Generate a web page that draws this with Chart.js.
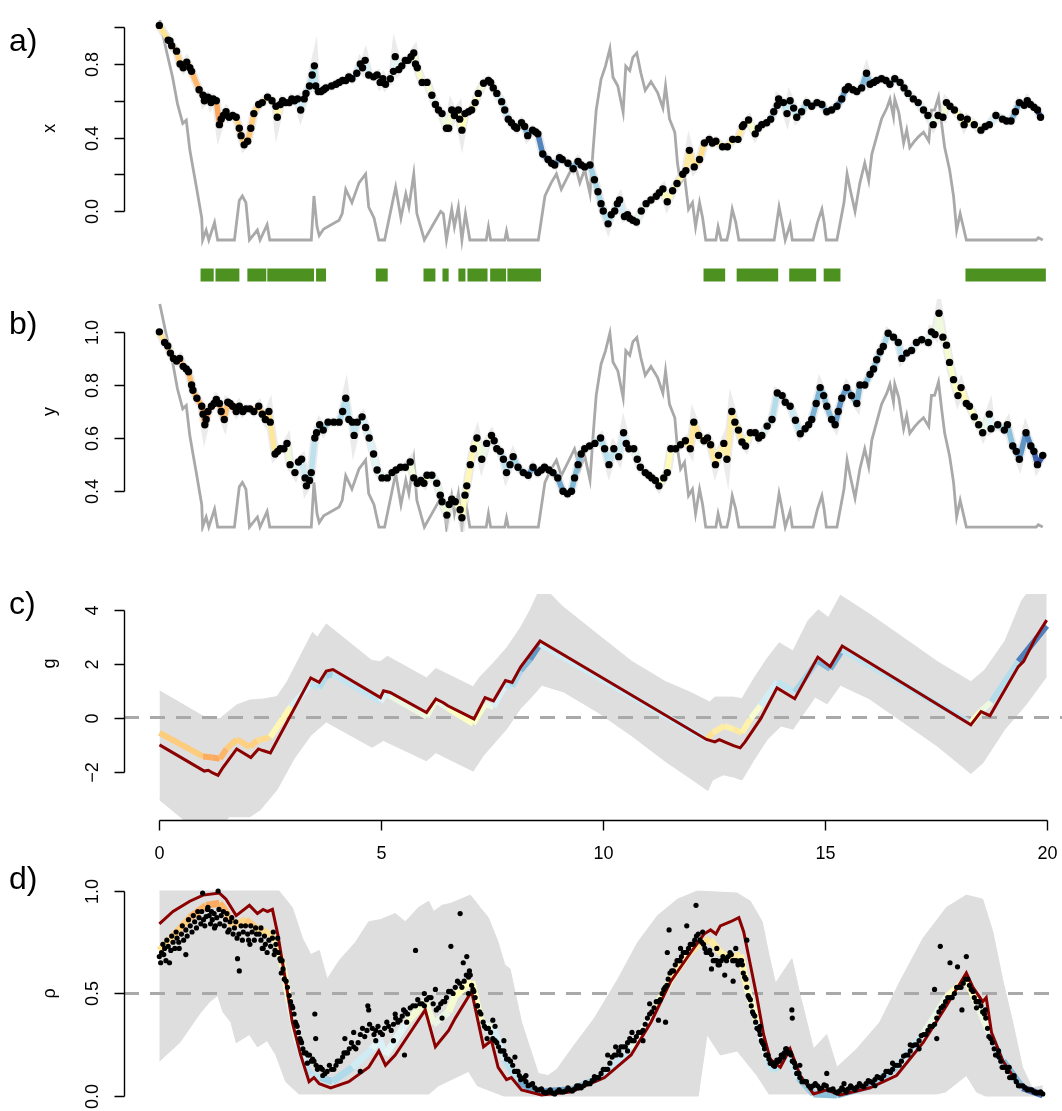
<!DOCTYPE html>
<html>
<head>
<meta charset="utf-8">
<script src="https://cdn.jsdelivr.net/npm/chart.js@4.4.0/dist/chart.umd.min.js"></script>
<style>
  html, body { margin: 0; padding: 0; background: #fff; overflow: hidden; }
  body { width: 1062px; height: 1111px; position: relative; }
  canvas { position: absolute; left: 0; }
</style>
</head>
<body>
<canvas id="panelA" width="1062" height="295" style="top:0px"></canvas>
<canvas id="panelB" width="1062" height="245" style="top:295px"></canvas>
<canvas id="panelC" width="1062" height="330" style="top:540px"></canvas>
<canvas id="panelD" width="1062" height="261" style="top:850px"></canvas>
<script>
// observed x coordinate (panel a)
const xObs = [[0,1.01],[0.2,0.93],[0.24,0.925],[0.28,0.9],[0.39,0.87],[0.47,0.8],[0.54,0.78],[0.62,0.81],[0.69,0.78],[0.73,0.76],[0.9,0.66],
  [0.99,0.63],[1.02,0.6],[1.1,0.62],[1.14,0.61],[1.17,0.59],[1.22,0.61],[1.29,0.6],[1.36,0.47],[1.4,0.5],[1.45,0.52],[1.51,0.54],[1.58,0.51],
  [1.66,0.52],[1.74,0.51],[1.81,0.45],[1.85,0.41],[1.92,0.36],[2,0.38],[2.07,0.45],[2.14,0.53],[2.25,0.58],[2.33,0.59],[2.45,0.62],[2.55,0.6],
  [2.64,0.57],[2.67,0.51],[2.74,0.58],[2.79,0.6],[2.86,0.59],[2.94,0.59],[3,0.61],[3.06,0.6],[3.13,0.61],[3.2,0.55],[3.28,0.61],[3.32,0.64],
  [3.4,0.68],[3.46,0.74],[3.51,0.79],[3.54,0.68],[3.6,0.65],[3.66,0.65],[3.72,0.66],[3.77,0.67],[3.9,0.68],[4,0.69],[4.07,0.7],[4.15,0.71],
  [4.22,0.71],[4.29,0.73],[4.36,0.72],[4.47,0.75],[4.55,0.8],[4.6,0.78],[4.66,0.82],[4.74,0.74],[4.85,0.73],[4.93,0.74],[5,0.7],[5.06,0.72],
  [5.12,0.69],[5.23,0.72],[5.3,0.76],[5.34,0.84],[5.42,0.77],[5.49,0.79],[5.57,0.82],[5.63,0.82],[5.7,0.84],[5.76,0.86],[5.8,0.8],[5.84,0.78],
  [5.95,0.7],[6.06,0.7],[6.17,0.63],[6.25,0.58],[6.32,0.55],[6.4,0.53],[6.5,0.45],[6.55,0.45],[6.62,0.55],[6.68,0.52],[6.77,0.55],[6.8,0.5],
  [6.85,0.44],[6.92,0.53],[7,0.54],[7.07,0.55],[7.15,0.59],[7.22,0.64],[7.34,0.695],[7.45,0.71],[7.5,0.7],[7.56,0.67],[7.64,0.64],[7.75,0.595],
  [7.82,0.55],[7.9,0.5],[7.97,0.48],[8.04,0.46],[8.09,0.45],[8.2,0.48],[8.27,0.46],[8.34,0.41],[8.45,0.44],[8.52,0.43],[8.57,0.42],[8.68,0.31],
  [8.8,0.28],[8.88,0.26],[8.95,0.25],[9.06,0.29],[9.12,0.28],[9.25,0.26],[9.37,0.23],[9.48,0.27],[9.55,0.25],[9.63,0.24],[9.75,0.25],[9.85,0.17],
  [9.93,0.105],[10,0.04],[10.05,0],[10.16,-0.07],[10.23,-0.02],[10.31,0],[10.37,0.04],[10.42,0.06],[10.53,-0.03],[10.6,-0.02],[10.65,-0.04],
  [10.72,-0.05],[10.8,-0.06],[10.91,0],[11.02,0.04],[11.13,0.06],[11.25,0.08],[11.32,0.1],[11.4,0.12],[11.5,0.05],[11.62,0.11],[11.72,0.15],
  [11.85,0.2],[11.92,0.22],[12,0.33],[12.11,0.24],[12.23,0.28],[12.34,0.37],[12.45,0.39],[12.52,0.37],[12.6,0.38],[12.75,0.35],[12.86,0.35],
  [12.98,0.39],[13.1,0.39],[13.2,0.46],[13.23,0.47],[13.34,0.495],[13.49,0.42],[13.56,0.45],[13.64,0.47],[13.75,0.48],[13.84,0.5],[13.91,0.54],
  [13.99,0.575],[14.02,0.61],[14.13,0.59],[14.21,0.53],[14.28,0.6],[14.36,0.56],[14.43,0.51],[14.54,0.54],[14.66,0.59],[14.77,0.57],[14.89,0.59],
  [15,0.58],[15.11,0.54],[15.22,0.55],[15.34,0.57],[15.45,0.61],[15.53,0.66],[15.6,0.676],[15.7,0.66],[15.79,0.65],[15.9,0.67],[16.01,0.75],
  [16.09,0.69],[16.17,0.7],[16.24,0.71],[16.35,0.72],[16.45,0.71],[16.54,0.69],[16.65,0.72],[16.77,0.7],[16.86,0.67],[16.95,0.64],[17.07,0.61],
  [17.18,0.59],[17.3,0.55],[17.4,0.52],[17.52,0.47],[17.63,0.52],[17.74,0.51],[17.82,0.59],[17.9,0.57],[18,0.55],[18.14,0.51],[18.22,0.47],
  [18.29,0.5],[18.45,0.47],[18.6,0.44],[18.7,0.46],[18.79,0.47],[18.94,0.52],[19.09,0.5],[19.18,0.49],[19.28,0.49],[19.38,0.54],[19.47,0.59],
  [19.58,0.575],[19.65,0.6],[19.72,0.58],[19.8,0.565],[19.88,0.55],[19.95,0.51]];

// observed y coordinate (panel b)
const yObs = [[0,1],[0.12,0.96],[0.19,0.947],[0.25,0.92],[0.32,0.9],[0.39,0.89],[0.46,0.9],[0.54,0.87],[0.61,0.86],[0.66,0.85],[0.73,0.8],
  [0.76,0.78],[0.85,0.75],[0.96,0.72],[0.99,0.69],[1.03,0.65],[1.06,0.67],[1.1,0.7],[1.18,0.72],[1.24,0.73],[1.29,0.745],[1.36,0.73],[1.4,0.7],
  [1.47,0.67],[1.55,0.735],[1.6,0.73],[1.66,0.72],[1.74,0.7],[1.81,0.72],[1.89,0.7],[1.96,0.71],[2.05,0.71],[2.14,0.7],[2.25,0.72],[2.33,0.69],
  [2.4,0.67],[2.48,0.7],[2.51,0.66],[2.62,0.54],[2.68,0.55],[2.74,0.56],[2.82,0.56],[2.89,0.58],[2.96,0.5],[3.07,0.47],[3.15,0.51],[3.22,0.52],
  [3.3,0.45],[3.33,0.42],[3.4,0.44],[3.44,0.47],[3.52,0.6],[3.56,0.62],[3.63,0.65],[3.71,0.63],[3.82,0.66],[3.95,0.66],[4.07,0.66],[4.15,0.7],
  [4.22,0.75],[4.29,0.67],[4.37,0.66],[4.41,0.61],[4.48,0.66],[4.59,0.68],[4.67,0.64],[4.75,0.6],[4.85,0.54],[4.93,0.48],[5.04,0.45],[5.16,0.45],
  [5.27,0.47],[5.36,0.48],[5.46,0.49],[5.57,0.49],[5.68,0.51],[5.76,0.45],[5.84,0.43],[5.92,0.44],[5.99,0.43],[6.06,0.46],[6.17,0.46],[6.28,0.43],
  [6.36,0.385],[6.4,0.36],[6.51,0.31],[6.56,0.35],[6.62,0.37],[6.7,0.36],[6.81,0.33],[6.85,0.3],[6.92,0.385],[6.96,0.42],[7.04,0.5],[7.11,0.56],
  [7.19,0.6],[7.3,0.52],[7.41,0.58],[7.52,0.61],[7.58,0.59],[7.64,0.56],[7.72,0.55],[7.79,0.52],[7.86,0.47],[7.94,0.5],[8.01,0.53],[8.12,0.49],
  [8.24,0.47],[8.35,0.46],[8.46,0.49],[8.57,0.47],[8.65,0.48],[8.72,0.49],[8.82,0.48],[8.91,0.47],[9.02,0.45],[9.14,0.4],[9.24,0.39],[9.33,0.4],
  [9.4,0.45],[9.48,0.5],[9.55,0.54],[9.63,0.56],[9.74,0.57],[9.86,0.58],[9.99,0.6],[10.08,0.56],[10.18,0.5],[10.29,0.56],[10.4,0.53],[10.51,0.62],
  [10.57,0.58],[10.63,0.56],[10.74,0.56],[10.82,0.52],[10.89,0.49],[11,0.47],[11.08,0.46],[11.15,0.45],[11.23,0.44],[11.31,0.42],[11.42,0.45],
  [11.5,0.47],[11.58,0.56],[11.69,0.56],[11.8,0.575],[11.91,0.59],[12.02,0.56],[12.1,0.66],[12.21,0.61],[12.33,0.59],[12.41,0.6],[12.48,0.575],
  [12.59,0.5],[12.66,0.535],[12.78,0.58],[12.85,0.52],[12.96,0.7],[13.03,0.66],[13.11,0.63],[13.19,0.585],[13.27,0.57],[13.38,0.62],[13.49,0.62],
  [13.57,0.6],[13.64,0.61],[13.76,0.645],[13.87,0.67],[13.99,0.77],[14.1,0.76],[14.17,0.735],[14.28,0.72],[14.4,0.667],[14.51,0.616],[14.62,0.635],
  [14.7,0.65],[14.77,0.67],[14.87,0.73],[14.96,0.79],[15.04,0.76],[15.11,0.72],[15.22,0.67],[15.3,0.65],[15.37,0.7],[15.45,0.75],[15.56,0.79],
  [15.67,0.76],[15.79,0.73],[15.86,0.8],[15.97,0.8],[16.09,0.84],[16.17,0.86],[16.24,0.895],[16.32,0.925],[16.39,0.945],[16.5,0.995],[16.62,0.98],
  [16.73,0.96],[16.81,0.9],[16.92,0.92],[17.03,0.93],[17.14,0.96],[17.26,0.97],[17.41,0.96],[17.48,1],[17.56,0.99],[17.65,1.07],[17.74,0.98],
  [17.82,0.95],[17.89,0.885],[17.98,0.82],[18.08,0.76],[18.15,0.79],[18.27,0.73],[18.34,0.72],[18.45,0.68],[18.55,0.65],[18.64,0.62],[18.79,0.69],
  [18.83,0.635],[18.98,0.65],[19.13,0.63],[19.2,0.65],[19.32,0.57],[19.4,0.55],[19.47,0.52],[19.62,0.62],[19.73,0.57],[19.8,0.55],[19.88,0.5],
  [20,0.535]];

// grey trace shared by panels a and b (0 = floor, 1 = top)
const greyTrace = [[0.01,1],[0.16,0.86],[0.3,0.74],[0.41,0.62],[0.53,0.53],[0.61,0.545],[0.69,0.41],[0.76,0.33],[0.84,0.24],[0.96,0.1],
  [0.98,0],[1.06,0.045],[1.12,0],[1.25,0.08],[1.32,0],[1.7,0],[1.81,0.18],[1.88,0.2],[1.96,0.17],[2.04,0],[2.22,0.045],[2.28,0],[2.44,0.07],
  [2.5,0],[3.44,0],[3.5,0.2],[3.57,0.06],[3.62,0.02],[3.72,0.05],[4.07,0.09],[4.14,0.12],[4.22,0.23],[4.36,0.17],[4.52,0.26],[4.67,0.3],
  [4.74,0.15],[4.86,0.1],[4.97,0],[5.1,0],[5.35,0.24],[5.47,0.1],[5.58,0.21],[5.65,0.15],[5.76,0.3],[5.83,0.12],[6,0],[6.17,0.06],[6.37,0.13],
  [6.43,0.12],[6.5,0],[6.62,0.14],[6.68,0.06],[6.77,0.15],[6.85,0],[6.93,0.12],[7.03,0],[7.4,0],[7.45,0.06],[7.5,0],[7.82,0],[7.86,0.04],
  [7.9,0],[8.58,0],[8.73,0.2],[8.87,0.26],[8.99,0.3],[9.1,0.23],[9.25,0.29],[9.4,0.35],[9.52,0.26],[9.63,0.32],[9.75,0.21],[9.82,0.41],
  [9.89,0.59],[10,0.73],[10.1,0.79],[10.2,0.87],[10.27,0.74],[10.38,0.7],[10.5,0.58],[10.56,0.79],[10.65,0.77],[10.72,0.83],[10.81,0.85],
  [10.9,0.76],[11,0.68],[11.13,0.72],[11.28,0.67],[11.4,0.6],[11.46,0.7],[11.55,0.55],[11.67,0.49],[11.73,0.35],[11.8,0.26],[11.89,0.29],
  [11.98,0.14],[12.07,0.17],[12.14,0.06],[12.23,0.17],[12.3,0.1],[12.37,0],[12.6,0],[12.65,0.06],[12.72,0],[12.85,0],[12.9,0.045],[12.97,0.14],
  [13.05,0.08],[13.12,0],[13.92,0],[14.03,0.15],[14.1,0.08],[14.17,0],[14.28,0.07],[14.33,0],[14.8,0],[14.9,0.08],[15,0.14],[15.05,0.08],
  [15.1,0],[15.34,0],[15.5,0.17],[15.57,0.3],[15.64,0.23],[15.75,0.13],[15.86,0.26],[15.97,0.35],[16.06,0.27],[16.13,0.39],[16.24,0.47],
  [16.35,0.55],[16.47,0.6],[16.54,0.64],[16.62,0.56],[16.65,0.64],[16.74,0.58],[16.85,0.44],[16.92,0.5],[16.99,0.42],[17.1,0.45],[17.19,0.47],
  [17.3,0.49],[17.42,0.45],[17.48,0.59],[17.55,0.59],[17.64,0.65],[17.71,0.53],[17.78,0.42],[17.89,0.32],[17.98,0.2],[18.05,0.045],[18.13,0.12],
  [18.2,0.06],[18.27,0],[19.85,0],[19.9,0.01],[20,0]];

// rug of flagged times (start / end of each run)
const rugStart = [0.933, 1.271, 1.993, 2.444, 3.548, 4.9, 5.98, 6.41, 6.77, 6.975, 7.49, 7.88, 12.32, 13.07, 14.26, 15.04, 18.25];
const rugEnd   = [1.231, 1.812, 2.421, 3.503, 3.774, 5.17, 6.25, 6.55, 6.93, 7.43, 7.85, 8.64, 12.81, 14.01, 14.87, 15.42, 20.07];

// panel c: g
const gMean = [[0,-0.57],[0.98,-1.44],[1.2,-1.48],[1.36,-1.53],[1.51,-1.16],[1.74,-0.81],[2.04,-1.09],[2.2,-0.85],[2.5,-0.72],[2.96,0.4],
  [3.41,1.25],[3.6,1.1],[3.76,1.55],[3.91,1.6],[4.98,0.59],[5.07,0.84],[5.2,0.8],[6.02,0.04],[6.23,0.64],[6.5,0.35],[7.07,-0.23],[7.34,0.5],
  [7.53,0.4],[7.8,1.2],[7.95,1.15],[8.14,1.74],[8.35,2.15],[8.58,2.72],[12.33,-0.81],[12.47,-0.56],[12.74,-0.31],[12.94,-0.43],[13.13,-0.56],
  [13.32,-0.05],[13.55,0.45],[13.93,1.33],[14.32,0.95],[14.84,2.1],[15.12,1.8],[15.39,2.5],[18.29,-0.2],[18.52,0.25],[18.75,0.58],[19.36,2.08],
  [20,3.4]];
const gTrue = [[0,-1.01],[1.01,-1.98],[1.1,-1.95],[1.2,-2.05],[1.32,-2.14],[1.43,-1.85],[1.74,-1.16],[2.06,-1.48],[2.23,-1.16],[2.33,-1.22],
  [2.5,-1.31],[3.41,1.47],[3.6,1.31],[3.76,1.72],[3.91,1.78],[4.98,0.74],[5.05,0.99],[5.2,0.93],[6.02,0.19],[6.23,0.69],[6.4,0.55],[6.5,0.44],
  [7.09,-0.05],[7.34,0.74],[7.53,0.62],[7.8,1.37],[7.95,1.3],[8.14,1.87],[8.35,2.33],[8.58,2.84],[12.33,-0.81],[12.52,-0.9],[12.62,-0.82],
  [12.79,-0.94],[12.94,-1.04],[13.09,-1.12],[13.2,-0.9],[13.55,-0.05],[13.92,1.1],[14.32,0.7],[14.84,2.24],[15.12,1.89],[15.39,2.65],
  [18.29,-0.27],[18.52,0.22],[18.72,0.07],[18.94,0.7],[19.36,1.89],[19.48,2.08],[19.75,2.96],[20,3.61]];
const gUpper = [[0,0.99],[1.05,-0.01],[1.36,-0.04],[1.74,0.47],[2.04,0.65],[2.35,0.69],[2.65,0.78],[2.88,1.34],[3.45,3.16],[3.56,2.98],
  [3.76,3.47],[4.79,2.11],[4.98,2.08],[5.14,2.27],[6.02,1.47],[6.23,1.82],[7.07,1.14],[7.22,1.5],[7.53,2.03],[7.83,2.59],[8.14,3.34],[8.35,3.97],
  [8.6,4.85],[8.8,4.6],[9.1,4.1],[9.88,3.08],[10.65,2.08],[11.41,1.33],[11.95,0.95],[12.4,0.58],[12.52,0.76],[12.94,0.76],[13.13,0.7],[13.4,1.45],
  [13.7,2.2],[13.97,2.77],[14.28,2.47],[14.62,3.59],[14.85,3.99],[15.08,3.71],[15.35,4.53],[16,3.84],[16.77,2.96],[17.53,2.08],[18.29,1.33],
  [18.6,1.76],[19.06,2.84],[19.44,4.35],[19.7,4.9],[20,5.3]];
const gLower = [[0,-3.04],[0.63,-3.9],[1,-4.1],[1.43,-3.9],[1.58,-3.67],[2.04,-3.67],[2.27,-3.42],[2.65,-2.67],[3.03,-1.53],[3.41,-0.66],
  [3.76,-0.16],[4.79,-1.1],[5.05,-0.85],[6.02,-1.6],[6.23,-1.3],[7.07,-1.98],[7.3,-1.41],[7.83,-0.41],[8.14,0.34],[8.35,0.7],[8.62,1.2],
  [9.11,0.95],[9.88,0.2],[10.65,-0.68],[11.41,-1.63],[12.02,-2.31],[12.36,-2.7],[12.47,-2.31],[12.71,-2.12],[12.94,-2.2],[13.13,-2.31],
  [13.4,-1.57],[13.7,-0.81],[14.01,-0.31],[14.28,-0.43],[14.78,0.76],[15.05,0.51],[15.35,1.2],[16,0.7],[16.77,-0.18],[17.53,-1.05],
  [18.29,-2.07],[18.56,-1.68],[19.06,-0.42],[19.52,0.45],[20,1.52]];

// panel d: rho
const rhoObs = [[0,0.68],[0.05,0.7],[0.12,0.72],[0.2,0.73],[0.31,0.75],[0.4,0.77],[0.5,0.79],[0.6,0.81],[0.7,0.83],[0.8,0.85],[0.9,0.87],
  [1,0.86],[1.06,0.875],[1.13,0.88],[1.2,0.86],[1.3,0.87],[1.4,0.88],[1.5,0.86],[1.6,0.85],[1.7,0.82],[1.8,0.79],[1.9,0.8],[2,0.79],[2.1,0.8],
  [2.2,0.79],[2.3,0.76],[2.4,0.74],[2.48,0.76],[2.56,0.77],[2.64,0.74],[2.7,0.7],[2.75,0.66],[2.8,0.62],[2.87,0.56],[2.94,0.49],[3,0.44],
  [3.05,0.4],[3.1,0.35],[3.15,0.31],[3.2,0.27],[3.25,0.23],[3.32,0.21],[3.4,0.2],[3.47,0.18],[3.55,0.15],[3.62,0.14],[3.69,0.13],[3.8,0.12],
  [3.9,0.13],[4,0.15],[4.07,0.17],[4.15,0.19],[4.22,0.21],[4.3,0.23],[4.4,0.24],[4.5,0.26],[4.6,0.33],[4.7,0.32],[4.82,0.33],[4.9,0.32],
  [5,0.31],[5.1,0.33],[5.19,0.34],[5.3,0.35],[5.4,0.36],[5.5,0.39],[5.57,0.41],[5.68,0.43],[5.8,0.44],[5.9,0.45],[5.95,0.45],[6.05,0.47],
  [6.1,0.48],[6.2,0.45],[6.32,0.43],[6.42,0.46],[6.5,0.48],[6.6,0.51],[6.7,0.53],[6.8,0.55],[6.9,0.56],[7,0.58],[7.04,0.59],[7.1,0.52],
  [7.15,0.48],[7.25,0.41],[7.33,0.36],[7.4,0.33],[7.5,0.31],[7.6,0.27],[7.68,0.24],[7.75,0.22],[7.83,0.2],[7.9,0.18],[8,0.15],[8.08,0.12],
  [8.15,0.1],[8.22,0.085],[8.3,0.07],[8.4,0.055],[8.5,0.04],[8.6,0.03],[8.7,0.02],[8.8,0.02],[8.9,0.015],[9,0.02],[9.1,0.02],[9.2,0.025],
  [9.3,0.03],[9.4,0.035],[9.5,0.04],[9.6,0.05],[9.7,0.06],[9.8,0.075],[9.9,0.09],[10,0.11],[10.1,0.13],[10.2,0.16],[10.3,0.2],[10.4,0.22],
  [10.5,0.24],[10.6,0.26],[10.7,0.27],[10.8,0.29],[10.9,0.31],[11,0.35],[11.1,0.4],[11.2,0.43],[11.3,0.46],[11.38,0.5],[11.45,0.53],
  [11.52,0.57],[11.6,0.61],[11.68,0.64],[11.75,0.66],[11.82,0.68],[11.9,0.7],[11.98,0.72],[12.05,0.74],[12.12,0.76],[12.2,0.79],[12.28,0.75],
  [12.35,0.72],[12.42,0.7],[12.5,0.69],[12.58,0.66],[12.65,0.64],[12.72,0.66],[12.8,0.67],[12.88,0.68],[12.95,0.69],[13.02,0.66],[13.1,0.64],
  [13.15,0.66],[13.2,0.64],[13.25,0.58],[13.3,0.53],[13.35,0.48],[13.4,0.44],[13.45,0.4],[13.5,0.36],[13.55,0.33],[13.6,0.3],[13.65,0.26],
  [13.7,0.23],[13.75,0.2],[13.8,0.18],[13.85,0.16],[13.9,0.15],[13.95,0.16],[14,0.17],[14.05,0.18],[14.1,0.2],[14.15,0.21],[14.2,0.23],
  [14.25,0.21],[14.3,0.2],[14.35,0.17],[14.4,0.14],[14.45,0.11],[14.5,0.09],[14.6,0.07],[14.7,0.05],[14.8,0.05],[14.9,0.05],[15,0.04],
  [15.1,0.05],[15.2,0.03],[15.3,0.02],[15.4,0.025],[15.5,0.03],[15.6,0.035],[15.7,0.04],[15.8,0.045],[15.9,0.05],[16,0.06],[16.1,0.07],
  [16.2,0.08],[16.3,0.09],[16.4,0.1],[16.5,0.12],[16.6,0.13],[16.7,0.15],[16.8,0.17],[16.9,0.2],[17,0.22],[17.1,0.25],[17.2,0.27],[17.3,0.3],
  [17.4,0.32],[17.5,0.34],[17.6,0.38],[17.7,0.43],[17.8,0.46],[17.9,0.48],[18,0.5],[18.1,0.53],[18.2,0.55],[18.3,0.57],[18.38,0.52],
  [18.45,0.48],[18.52,0.46],[18.6,0.44],[18.68,0.4],[18.75,0.33],[18.82,0.28],[18.9,0.23],[18.97,0.2],[19.05,0.17],[19.12,0.14],[19.2,0.12],
  [19.3,0.09],[19.4,0.07],[19.5,0.05],[19.6,0.04],[19.7,0.03],[19.8,0.02],[19.9,0.015],[20,0.01]];
// the thick part of the rho cloud, read above and below its centre
const rhoObsCloud = [[0.03,0.65],[0.08,0.74],[0.1,0.69],[0.17,0.76],[0.26,0.71],[0.28,0.78],[0.35,0.72],[0.38,0.8],[0.44,0.75],[0.52,0.83],
  [0.55,0.76],[0.63,0.78],[0.66,0.86],[0.74,0.8],[0.77,0.88],[0.84,0.82],[0.87,0.9],[0.94,0.84],[0.96,0.9],[1.03,0.83],[1.09,0.91],[1.16,0.84],
  [1.18,0.9],[1.24,0.89],[1.27,0.83],[1.35,0.91],[1.37,0.84],[1.45,0.9],[1.47,0.83],[1.53,0.89],[1.58,0.81],[1.64,0.87],[1.67,0.79],[1.73,0.85],
  [1.76,0.77],[1.85,0.83],[1.88,0.76],[1.95,0.83],[2.02,0.76],[2.07,0.83],[2.15,0.76],[2.18,0.82],[2.26,0.79],[2.33,0.72],[2.38,0.78],[2.44,0.7],
  [2.52,0.73],[2.58,0.8],[2.62,0.71],[2.68,0.77],[2.73,0.67],[2.78,0.66],[2.83,0.57],[2.9,0.53],[2.97,0.46],[3.02,0.43],[3.08,0.36],[3.12,0.34],
  [3.18,0.28],[3.22,0.26],[3.28,0.21],[3.36,0.2],[3.44,0.17],[3.5,0.17],[3.58,0.13],[3.65,0.14],[3.75,0.11],[3.85,0.15],[3.95,0.13],[4.03,0.17],
  [4.1,0.17],[4.18,0.21],[4.26,0.21],[4.35,0.26],[4.45,0.23],[4.55,0.3],[4.65,0.29],[4.76,0.35],[4.86,0.3],[4.95,0.34],[5.05,0.3],[5.15,0.36],
  [5.25,0.32],[5.35,0.38],[5.45,0.37],[5.53,0.42],[5.62,0.4],[5.74,0.44],[5.85,0.47],[6,0.44],[6.15,0.48],[6.27,0.42],[6.37,0.45],[6.46,0.46],
  [6.55,0.51],[6.65,0.5],[6.75,0.56],[6.85,0.53],[6.95,0.59],[7.02,0.61],[7.07,0.54],[7.12,0.51],[7.2,0.44],[7.28,0.4],[7.36,0.34],[7.45,0.33],
  [7.55,0.28],[7.64,0.26],[7.72,0.22],[7.8,0.22],[7.86,0.18],[7.95,0.17],[8.04,0.12],[8.12,0.12],[8.18,0.08],[8.26,0.09],[8.35,0.05],
  [8.45,0.06],[8.55,0.03],[8.65,0.035],[8.75,0.015],[8.85,0.03],[8.95,0.01],[9.05,0.03],[9.15,0.02],[9.25,0.04],[9.35,0.025],[9.45,0.05],
  [9.55,0.04],[9.65,0.065],[9.75,0.06],[9.85,0.095],[9.95,0.09],[10.05,0.13],[10.15,0.13],[10.25,0.19],[10.35,0.2],[10.45,0.24],[10.55,0.24],
  [10.65,0.28],[10.75,0.27],[10.85,0.31],[10.95,0.32],[11.05,0.38],[11.15,0.41],[11.25,0.46],[11.34,0.47],[11.42,0.52],[11.49,0.54],
  [11.56,0.6],[11.64,0.61],[11.72,0.66],[11.79,0.66],[11.86,0.7],[11.94,0.7],[12.02,0.74],[12.09,0.74],[12.16,0.78],[12.24,0.76],[12.32,0.74],
  [12.38,0.7],[12.46,0.71],[12.54,0.66],[12.62,0.66],[12.68,0.64],[12.76,0.68],[12.84,0.66],[12.92,0.7],[12.98,0.66],[13.06,0.66],[13.12,0.65],
  [13.18,0.66],[13.22,0.6],[13.28,0.57],[13.33,0.49],[13.38,0.47],[13.43,0.41],[13.48,0.39],[13.53,0.33],[13.58,0.32],[13.63,0.27],[13.68,0.25],
  [13.73,0.2],[13.78,0.2],[13.83,0.16],[13.88,0.16],[13.93,0.145],[13.98,0.175],[14.03,0.17],[14.08,0.2],[14.13,0.19],[14.18,0.23],[14.23,0.21],
  [14.28,0.21],[14.33,0.17],[14.38,0.16],[14.43,0.11],[14.48,0.11],[14.55,0.07],[14.65,0.07],[14.75,0.04],[14.85,0.06],[14.95,0.035],
  [15.05,0.055],[15.15,0.03],[15.25,0.035],[15.35,0.015],[15.45,0.04],[15.55,0.02],[15.65,0.05],[15.75,0.03],[15.85,0.06],[15.95,0.045],
  [16.05,0.075],[16.15,0.065],[16.25,0.095],[16.35,0.085],[16.45,0.12],[16.55,0.115],[16.65,0.15],[16.75,0.15],[16.85,0.195],[16.95,0.2],
  [17.05,0.245],[17.15,0.25],[17.25,0.295],[17.35,0.3],[17.45,0.34],[17.55,0.35],[17.65,0.41],[17.75,0.44],[17.85,0.48],[17.95,0.48],
  [18.05,0.53],[18.15,0.53],[18.25,0.57],[18.34,0.54],[18.42,0.51],[18.49,0.46],[18.56,0.46],[18.64,0.41],[18.71,0.38],[18.78,0.29],[18.86,0.26],
  [18.93,0.2],[19.01,0.19],[19.08,0.14],[19.16,0.14],[19.25,0.09],[19.35,0.09],[19.45,0.05],[19.55,0.05],[19.65,0.03],[19.75,0.03],
  [19.85,0.015],[19.95,0.02]];
const rhoObsSpread = [[0.98,0.99],[1.33,1],[1.81,0.61],[0.23,0.65],[0.6,0.69],[1.77,0.67],[0.45,0.72],[0.15,0.66],[1.1,0.92],[1.25,0.82],
  [1.55,0.8],[2.05,0.74],[2.35,0.72],[2.6,0.69],[2.3,0.82],[2.76,0.6],[3.52,0.4],[3.54,0.28],[3.35,0.16],[3.7,0.1],[4.2,0.28],[4.4,0.31],
  [4.55,0.12],[4.72,0.44],[4.74,0.42],[4.9,0.27],[5.3,0.27],[5.34,0.4],[5.55,0.2],[5.6,0.36],[5.8,0.71],[6,0.5],[6.25,0.52],[6.4,0.38],
  [6.6,0.73],[6.81,0.89],[6.96,0.68],[6.88,0.65],[7,0.5],[7.2,0.44],[7.42,0.28],[7.55,0.37],[7.6,0.34],[7.8,0.27],[8.05,0.19],[8.3,0.1],
  [9.5,0.05],[9.85,0.08],[10.15,0.2],[10.33,0.24],[10.45,0.2],[10.6,0.22],[10.7,0.31],[10.95,0.27],[11.1,0.45],[11.3,0.37],[11.46,0.36],
  [11.5,0.7],[11.54,0.81],[11.8,0.72],[11.94,0.83],[12.15,0.93],[12.3,0.8],[12.5,0.62],[12.62,0.72],[12.8,0.59],[12.99,0.56],[13.05,0.72],
  [13.3,0.76],[13.6,0.34],[14.32,0.42],[14.33,0.38],[14.5,0.15],[15.11,0.11],[15.5,0.06],[16.2,0.05],[16.6,0.16],[17,0.25],[17.2,0.23],
  [17.55,0.52],[17.6,0.28],[17.68,0.73],[17.9,0.65],[18.07,0.63],[18.17,0.42],[18.27,0.68],[18.5,0.43],[18.7,0.42],[19.24,0.14],[19,0.22],
  [19.35,0.1]];
const rhoMean = [[0,0.71],[0.31,0.78],[0.69,0.87],[1.06,0.93],[1.36,0.94],[1.51,0.9],[1.66,0.83],[1.96,0.86],[2.18,0.82],[2.4,0.8],[2.6,0.78],
  [2.79,0.64],[2.94,0.46],[3.13,0.26],[3.32,0.14],[3.46,0.1],[3.65,0.09],[3.92,0.07],[4.37,0.14],[4.82,0.23],[4.97,0.28],[5.12,0.2],[5.57,0.35],
  [6.02,0.46],[6.2,0.35],[6.55,0.41],[6.7,0.49],[7.07,0.56],[7.3,0.35],[7.56,0.33],[7.82,0.18],[8.12,0.07],[8.58,0.02],[9.33,0.03],[10.08,0.1],
  [10.68,0.23],[11.13,0.39],[11.58,0.57],[11.96,0.69],[12.26,0.75],[12.48,0.76],[12.7,0.7],[12.93,0.67],[13.16,0.69],[13.3,0.53],[13.53,0.36],
  [13.76,0.18],[13.91,0.12],[14.21,0.22],[14.47,0.09],[14.81,0.01],[15.34,0.005],[16.09,0.05],[16.69,0.14],[17.29,0.3],[17.82,0.48],[18.27,0.57],
  [18.49,0.46],[18.79,0.31],[19.1,0.17],[19.54,0.04],[20,0.005]];
const rhoTrue = [[0,0.84],[0.31,0.9],[0.69,0.95],[0.99,0.98],[1.36,0.99],[1.51,0.96],[1.74,0.88],[2.04,0.93],[2.22,0.89],[2.35,0.91],[2.45,0.9],
  [2.56,0.91],[2.68,0.79],[2.86,0.56],[3.01,0.36],[3.2,0.2],[3.39,0.07],[3.5,0.09],[3.62,0.06],[3.88,0.04],[4.29,0.07],[4.74,0.14],[4.97,0.22],
  [5.12,0.15],[5.34,0.2],[5.65,0.3],[6.02,0.42],[6.25,0.24],[6.55,0.32],[6.7,0.38],[7.07,0.51],[7.34,0.24],[7.52,0.27],[7.67,0.14],[7.86,0.08],
  [7.97,0.09],[8.2,0.03],[8.65,0.005],[9.33,0.02],[10.08,0.09],[10.68,0.2],[11.13,0.36],[11.58,0.56],[12.03,0.7],[12.33,0.79],[12.48,0.81],
  [12.6,0.79],[12.7,0.83],[12.93,0.85],[13.12,0.87],[13.23,0.8],[13.38,0.64],[13.53,0.48],[13.68,0.3],[13.83,0.18],[14.06,0.14],[14.28,0.23],
  [14.51,0.1],[14.81,0.01],[15.11,0.03],[15.41,0.005],[16.09,0.04],[16.69,0.1],[17.29,0.26],[17.82,0.44],[18.27,0.6],[18.42,0.53],[18.64,0.46],
  [18.72,0.48],[18.84,0.31],[19.1,0.17],[19.47,0.05],[20,0.01]];
const rhoUpper = [[0,1],[2.71,1],[3.01,0.92],[3.24,0.77],[3.43,0.69],[3.62,0.71],[3.8,0.57],[4.07,0.66],[4.44,0.75],[4.74,0.85],[5,0.86],
  [5.34,0.89],[5.57,0.85],[5.87,0.92],[6.1,0.95],[6.21,0.9],[6.4,0.93],[6.6,0.94],[7.04,0.98],[7.26,0.92],[7.45,0.87],[7.67,0.75],[7.82,0.64],
  [7.94,0.62],[8.2,0.36],[8.58,0.11],[8.8,0.1],[9,0.13],[9.33,0.23],[9.85,0.38],[10.38,0.57],[10.83,0.75],[11.28,0.88],[11.73,0.96],[12.18,1],
  [13.08,0.99],[13.38,0.95],[13.65,0.85],[13.8,0.69],[13.95,0.55],[14.32,0.67],[14.51,0.49],[14.81,0.23],[15.11,0.3],[15.34,0.14],[15.79,0.23],
  [16.31,0.36],[16.77,0.56],[17.29,0.77],[17.82,0.92],[18.27,0.98],[18.64,0.96],[18.87,0.8],[19.1,0.56],[19.32,0.36],[19.54,0.14],[19.76,0.04],
  [20,0.05]];
const rhoLower = [[0,0.17],[0.46,0.26],[0.91,0.4],[1.14,0.46],[1.32,0.49],[1.44,0.41],[1.62,0.36],[1.74,0.26],[2.04,0.3],[2.22,0.24],[2.44,0.27],
  [2.64,0.2],[2.86,0.07],[3.16,0.01],[6.1,0.01],[6.32,0.05],[7,0.12],[7.2,0.05],[7.8,0],[12.2,0],[12.4,0.3],[12.7,0.2],[13.08,0.22],[13.53,0.1],
  [13.8,0.01],[17.6,0.01],[17.8,0.02],[18.27,0.1],[18.5,0.02],[18.7,0],[20,0]];

// axis ticks
const aTicks = [0, 0.2, 0.4, 0.6, 0.8, 1.0];
const aTickLabels = ['0.0', '', '0.4', '', '0.8', ''];
const bTicks = [0.4, 0.6, 0.8, 1.0];
const bTickLabels = ['0.4', '0.6', '0.8', '1.0'];
const cTicks = [-2, 0, 2, 4];
const cTickLabels = ['\u22122', '0', '2', '4'];
const dTicks = [0, 0.5, 1.0];
const dTickLabels = ['0.0', '0.5', '1.0'];
const timeTicks = [0, 5, 10, 15, 20];

const X_MIN = -0.8, X_MAX = 20.345;
const GREY = '#A9A9A9', BAND = '#DEDEDE', DARKRED = '#8B0000', RUG = '#4D9221';
const FONT = '"Liberation Sans", Arial, Helvetica, sans-serif';
const PALETTE = ['#A50026','#D73027','#F46D43','#FDAE61','#FEE090','#FFFFBF','#E0F3F8','#ABD9E9','#74ADD1','#4575B4','#313695'];

const pts = arr => arr.map(([x, y]) => ({ x, y }));

// colour of the mean track follows the posterior mean of g
function gAt(t) {
  if (t <= gMean[0][0]) return gMean[0][1];
  for (let i = 1; i < gMean.length; i++) {
    if (t <= gMean[i][0]) {
      const [t0, v0] = gMean[i - 1], [t1, v1] = gMean[i];
      return v0 + (v1 - v0) * (t - t0) / (t1 - t0);
    }
  }
  return gMean[gMean.length - 1][1];
}
function hex(c) { return [1, 3, 5].map(i => parseInt(c.substr(i, 2), 16)); }
function gColour(t) {
  let k = 5 + gAt(t) / 0.72;
  k = Math.max(0, Math.min(9.999, k));
  const i = Math.floor(k), f = k - i;
  const a = hex(PALETTE[i]), b = hex(PALETTE[i + 1]);
  return 'rgb(' + a.map((v, j) => Math.round(v + (b[j] - v) * f)).join(',') + ')';
}

function dots(arr, r, order) {
  return { data: pts(arr), showLine: false, pointRadius: r, pointBackgroundColor: '#000', pointBorderWidth: 0, order };
}
function line(arr, colour, width, order, extra) {
  return Object.assign({ data: pts(arr), showLine: true, pointRadius: 0, borderColor: colour, borderWidth: width,
    tension: 0, fill: false, order }, extra || {});
}
function colourLine(arr, width, order) {
  return line(arr, '#FFFFBF', width, order, {
    segment: { borderColor: c => gColour((c.p0.parsed.x + c.p1.parsed.x) / 2) }
  });
}
function refLine(level, order) {
  return line([[X_MIN, level], [X_MAX, level]], GREY, 3, order, { borderDash: [15, 11] });
}

const rAxes = {
  id: 'rAxes',
  afterDraw(chart, args, o) {
    const ctx = chart.ctx, area = chart.chartArea, xs = chart.scales.x, ys = chart.scales.y;
    const ax = area.left + 0.5;
    ctx.save();
    ctx.strokeStyle = '#000';
    ctx.fillStyle = '#000';
    ctx.lineWidth = 1.4;
    const tp = o.ticks.map(v => Math.round(ys.getPixelForValue(v)) + 0.5);
    ctx.beginPath();
    ctx.moveTo(ax, tp[0]);
    ctx.lineTo(ax, tp[tp.length - 1]);
    tp.forEach(p => { ctx.moveTo(ax, p); ctx.lineTo(ax - 10, p); });
    ctx.stroke();
    ctx.font = '18px ' + FONT;
    ctx.textAlign = 'center';
    ctx.textBaseline = 'alphabetic';
    tp.forEach((p, i) => {
      if (!o.labels[i]) return;
      ctx.save();
      ctx.translate(ax - 27, p);
      ctx.rotate(-Math.PI / 2);
      ctx.fillText(o.labels[i], 0, 0);
      ctx.restore();
    });
    ctx.save();
    ctx.translate(50, ys.getPixelForValue(o.titleAt));
    ctx.rotate(-Math.PI / 2);
    ctx.textBaseline = 'middle';
    ctx.fillText(o.title, 0, 0);
    ctx.restore();
    ctx.font = '32px ' + FONT;
    ctx.textAlign = 'left';
    ctx.textBaseline = 'middle';
    ctx.fillText(o.tag, 9, o.tagY);
    if (o.xTicks) {
      const by = area.bottom + 0.5;
      const xp = o.xTicks.map(v => Math.round(xs.getPixelForValue(v)) + 0.5);
      ctx.beginPath();
      ctx.moveTo(xp[0], by);
      ctx.lineTo(xp[xp.length - 1], by);
      xp.forEach(p => { ctx.moveTo(p, by); ctx.lineTo(p, by + 10); });
      ctx.stroke();
      ctx.font = '18px ' + FONT;
      ctx.textAlign = 'center';
      ctx.textBaseline = 'alphabetic';
      xp.forEach((p, i) => ctx.fillText(String(o.xTicks[i]), p, by + 38));
    }
    ctx.restore();
  }
};

function panel(id, cfg) {
  return new Chart(document.getElementById(id), {
    type: 'scatter',
    data: { datasets: cfg.datasets },
    options: {
      responsive: false,
      animation: false,
      events: [],
      layout: { padding: { left: 124, right: 0, top: cfg.padTop, bottom: cfg.padBottom } },
      plugins: { legend: { display: false }, tooltip: { enabled: false }, rAxes: cfg.axes },
      scales: {
        x: { type: 'linear', min: X_MIN, max: X_MAX, display: false },
        y: { type: 'linear', min: cfg.yMin, max: cfg.yMax, display: false },
        y2: { type: 'linear', min: cfg.y2Min, max: cfg.y2Max, display: false }
      }
    },
    plugins: [rAxes]
  });
}

// rug drawn as thick horizontal runs below panel a
const rugLevel = -0.348;
const rugData = [];
rugStart.forEach((s, i) => {
  rugData.push({ x: s, y: rugLevel }, { x: rugEnd[i], y: rugLevel }, { x: rugEnd[i], y: null });
});

panel('panelA', {
  padTop: 10, padBottom: 5, yMin: -0.4299, yMax: 1.0939, y2Min: -0.2273, y2Max: 1.0455,
  axes: { ticks: aTicks, labels: aTickLabels, title: 'x', titleAt: 0.45, tag: 'a)', tagY: 42 },
  datasets: [
    dots(xObs, 3.7, 0),
    colourLine(xObs, 5.5, 1),
    line(xObs, 'rgba(215,215,215,0.5)', 9, 2),
    line(greyTrace, GREY, 2.8, 3, { yAxisID: 'y2' }),
    { data: rugData, showLine: true, pointRadius: 0, borderColor: RUG, borderWidth: 13, borderCapStyle: 'butt',
      spanGaps: false, fill: false, order: 4 }
  ]
});

panel('panelB', {
  padTop: 3, padBottom: 8, yMin: 0.2463, yMax: 1.1237, y2Min: -0.0223, y2Max: 1.0223,
  axes: { ticks: bTicks, labels: bTickLabels, title: 'y', titleAt: 0.7, tag: 'b)', tagY: 30 },
  datasets: [
    dots(yObs, 3.7, 0),
    colourLine(yObs, 5.5, 1),
    line(yObs, 'rgba(215,215,215,0.5)', 9, 2),
    line(greyTrace, GREY, 2.8, 3, { yAxisID: 'y2' })
  ]
});

panel('panelC', {
  padTop: 54, padBottom: 50, yMin: -3.793, yMax: 4.578, y2Min: 0, y2Max: 1,
  axes: { ticks: cTicks, labels: cTickLabels, title: 'g', titleAt: 2, tag: 'c)', tagY: 65, xTicks: timeTicks },
  datasets: [
    line(gTrue, DARKRED, 3, 0),
    colourLine(gMean, 6, 1),
    refLine(0, 2),
    line(gUpper, BAND, 1, 3, { fill: '+1', backgroundColor: BAND }),
    line(gLower, BAND, 1, 4)
  ]
});

panel('panelD', {
  padTop: 33, padBottom: 7, yMin: -0.039, yMax: 1.039, y2Min: 0, y2Max: 1,
  axes: { ticks: dTicks, labels: dTickLabels, title: '\u03c1', titleAt: 0.5, tag: 'd)', tagY: 30 },
  datasets: [
    dots(rhoObs, 2.6, 0),
    dots(rhoObsCloud, 2.6, 1),
    dots(rhoObsSpread, 2.6, 2),
    line(rhoTrue, DARKRED, 3, 3),
    colourLine(rhoMean, 7, 4),
    refLine(0.5, 5),
    line(rhoUpper, BAND, 1, 6, { fill: '+1', backgroundColor: BAND }),
    line(rhoLower, BAND, 1, 7)
  ]
});
</script>
</body>
</html>
